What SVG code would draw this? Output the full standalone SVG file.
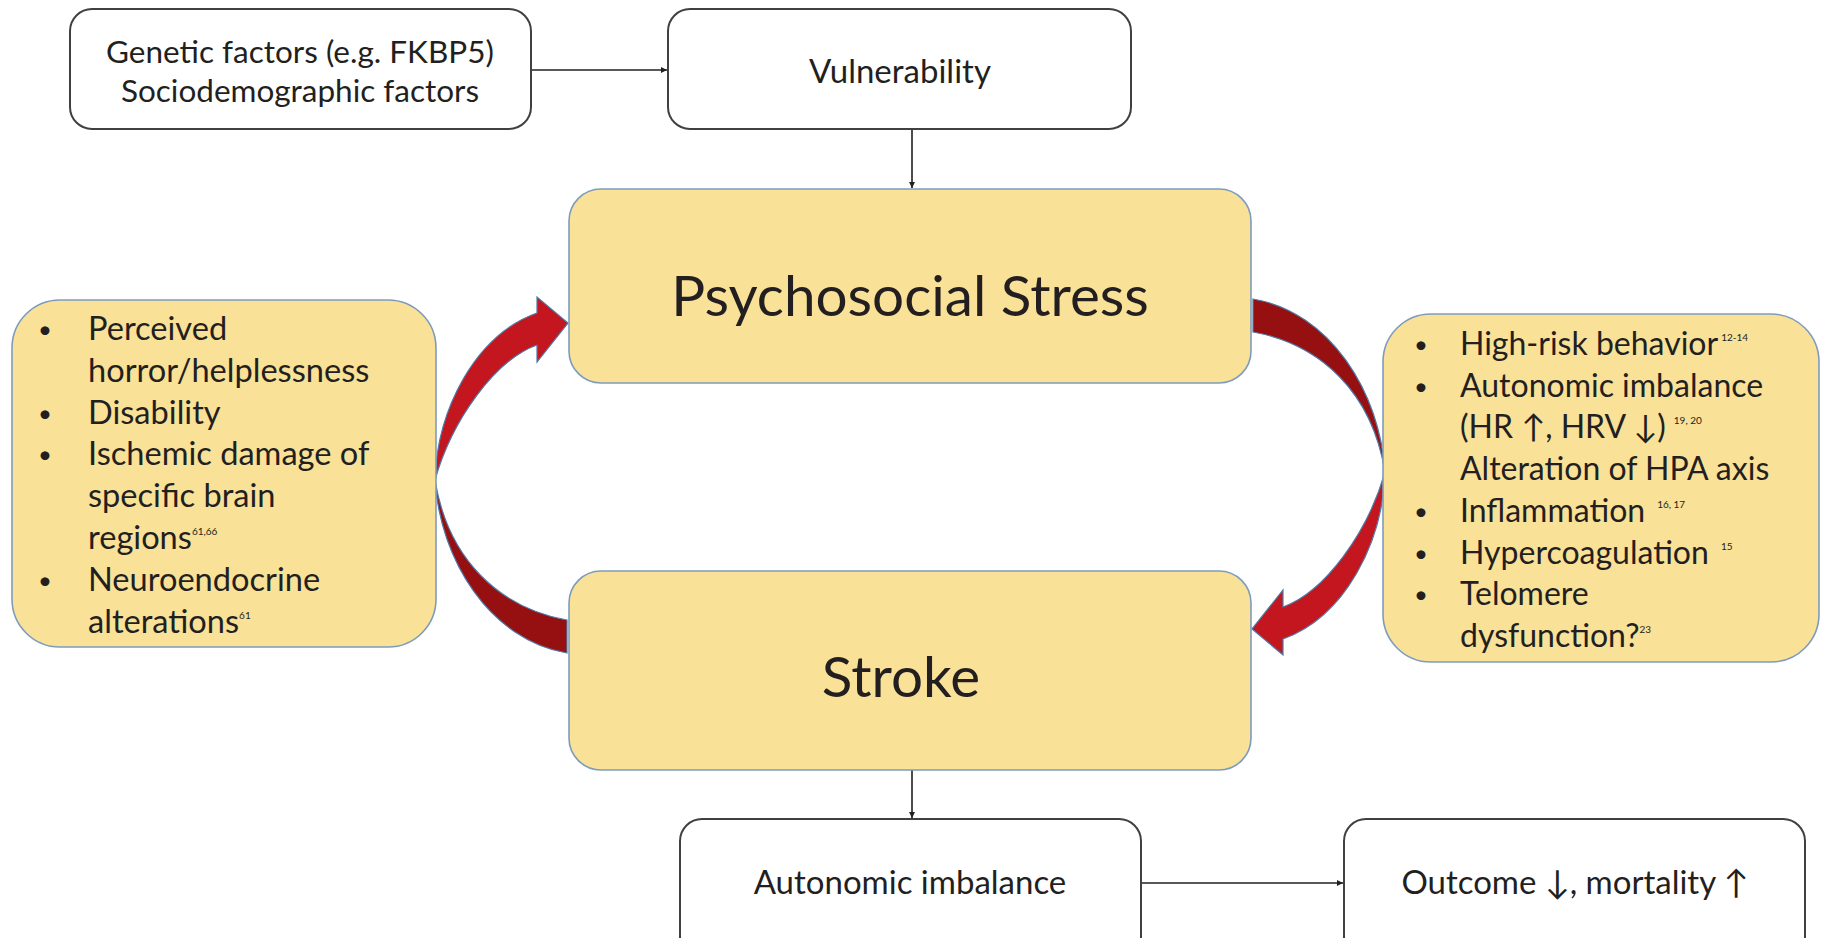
<svg xmlns="http://www.w3.org/2000/svg" width="1822" height="938" viewBox="0 0 1822 938">
<defs>
<style>
.wb{fill:#ffffff;stroke:#404040;stroke-width:2}
.yb{fill:#F9E197;stroke:#7d9cbd;stroke-width:1.6}
.t{font-family:Lato,"DejaVu Sans",sans-serif;fill:#231f20}
.big{font-size:56.6px}
.midl{font-size:32.6px}
.midr{font-size:32px}
.sm{font-size:31.5px}
.bot{font-size:33px}
.sup{font-size:10px}
.bul{font-size:24px}
.ln{stroke:#231f20;stroke-width:1.6;fill:none}
.bright{fill:#C3161E;stroke:#4f7aa6;stroke-width:1.2}
.dark{fill:#961012;stroke:#4f7aa6;stroke-width:1.2}
</style>
<marker id="ah" viewBox="0 0 10 10" refX="10" refY="5" markerWidth="6" markerHeight="6" orient="auto" markerUnits="userSpaceOnUse">
<path d="M0,0 L10,5 L0,10 Z" fill="#231f20"/>
</marker>
<g id="curved">
<path class="dark" d="M435,480 C440,560 490,640 567,653 L567,620 C500,608 448,560 435,480 Z"/>
<path class="bright" d="M435,480 C437,410 475,335 537,313 L537,297 L568,323 L537,362 L537,345 C495,360 452,420 435,480 Z"/>
</g>
</defs>
<rect width="1822" height="938" fill="#ffffff"/>

<g id="connectors">
<line class="ln" x1="531" y1="70" x2="667" y2="70" marker-end="url(#ah)"/>
<line class="ln" x1="912" y1="129" x2="912" y2="188" marker-end="url(#ah)"/>
<line class="ln" x1="912" y1="770" x2="912" y2="818" marker-end="url(#ah)"/>
<line class="ln" x1="1141" y1="883" x2="1343" y2="883" marker-end="url(#ah)"/>
<use href="#curved"/>
<use href="#curved" transform="rotate(180 910 476)"/>
</g>

<g id="genetic">
<rect class="wb" x="70" y="9" width="461" height="120" rx="22"/>
<text class="t sm" x="300" y="62.5" text-anchor="middle">Genetic factors (e.g. FKBP5)</text>
<text class="t sm" x="300" y="101.5" text-anchor="middle">Sociodemographic factors</text>
</g>

<g id="vulnerability">
<rect class="wb" x="668" y="9" width="463" height="120" rx="22"/>
<text class="t bot" x="900" y="83" text-anchor="middle">Vulnerability</text>
</g>

<g id="stress">
<rect class="yb" x="569" y="189" width="682" height="194" rx="32"/>
<text class="t big" x="910" y="316" text-anchor="middle">Psychosocial Stress</text>
</g>

<g id="stroke">
<rect class="yb" x="569" y="571" width="682" height="199" rx="32"/>
<text class="t big" x="901" y="697" text-anchor="middle">Stroke</text>
</g>

<g id="left-factors">
<rect class="yb" x="12" y="300" width="424" height="347" rx="48"/>
<g class="t midl">
<text class="bul" x="38" y="338">•</text>
<text x="88" y="340">Perceived</text>
<text x="88" y="382">horror/helplessness</text>
<text class="bul" x="38" y="422">•</text>
<text x="88" y="424">Disability</text>
<text class="bul" x="38" y="463">•</text>
<text x="88" y="465">Ischemic damage of</text>
<text x="88" y="507">specific brain</text>
<text x="88" y="549">regions<tspan class="sup" dy="-14">61,66</tspan></text>
<text class="bul" x="38" y="589">•</text>
<text x="88" y="591">Neuroendocrine</text>
<text x="88" y="633">alterations<tspan class="sup" dy="-14">61</tspan></text>
</g>
</g>

<g id="right-factors">
<rect class="yb" x="1383" y="314" width="436" height="348" rx="48"/>
<g class="t midr">
<text class="bul" x="1414" y="353">•</text>
<text x="1460" y="355">High-risk behavior<tspan class="sup" dx="3" dy="-14">12-14</tspan></text>
<text class="bul" x="1414" y="395">•</text>
<text x="1460" y="397">Autonomic imbalance</text>
<text x="1460" y="438">(HR ↑, HRV ↓)<tspan class="sup" dx="8" dy="-14">19, 20</tspan></text>
<text x="1460" y="480">Alteration of HPA axis</text>
<text class="bul" x="1414" y="520">•</text>
<text x="1460" y="522">Inflammation<tspan class="sup" dx="12" dy="-14">16, 17</tspan></text>
<text class="bul" x="1414" y="562">•</text>
<text x="1460" y="564">Hypercoagulation<tspan class="sup" dx="12" dy="-14">15</tspan></text>
<text class="bul" x="1414" y="603">•</text>
<text x="1460" y="605">Telomere</text>
<text x="1460" y="647">dysfunction?<tspan class="sup" dy="-14">23</tspan></text>
</g>
</g>

<g id="autonomic">
<rect class="wb" x="680" y="819" width="461" height="140" rx="22"/>
<text class="t bot" x="910" y="894" text-anchor="middle">Autonomic imbalance</text>
</g>

<g id="outcome">
<rect class="wb" x="1344" y="819" width="461" height="140" rx="22"/>
<text class="t bot" x="1575" y="894" text-anchor="middle">Outcome ↓, mortality ↑</text>
</g>
</svg>
